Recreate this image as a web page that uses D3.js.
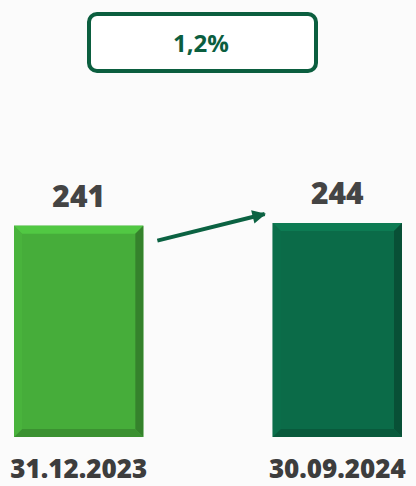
<!DOCTYPE html>
<html>
<head>
<meta charset="utf-8">
<script src="https://cdn.jsdelivr.net/npm/d3@7"></script>
<style>
  body { margin: 0; background: #fbfbfb; }
  svg { display: block; }
</style>
</head>
<body>
<div id="chart"></div>
<script>
// data
var dates = ["31.12.2023", "30.09.2024"];
var values = [241, 244];
var barColors = ["#46ad3a", "#0b6b48"];
var changeLabel = "1,2%";

var width = 416, height = 486;
var margin = {top: 223, right: 14, bottom: 49, left: 14};

var svg = d3.select("#chart").append("svg")
    .attr("width", width)
    .attr("height", height);

var x = d3.scaleBand()
    .domain(dates)
    .range([margin.left, width - margin.right])
    .paddingInner(0.5)
    .paddingOuter(0);

var y = d3.scaleLinear()
    .domain([0, d3.max(values)])
    .range([height - margin.bottom, margin.top]);

var bw = x.bandwidth();
var bev = 8;

var bars = svg.selectAll(".bar")
    .data(dates)
    .enter().append("g")
    .attr("class", "bar");

bars.each(function(d, i) {
    var g = d3.select(this);
    var x0 = x(d), x1 = x(d) + bw;
    var y0 = y(values[i]), y1 = y(0);
    var c = d3.color(barColors[i]);
    g.append("rect")
        .attr("x", x0).attr("y", y0)
        .attr("width", bw).attr("height", y1 - y0)
        .attr("fill", c);
    // bevel edges
    var faces = [
        {pts: [[x0, y0], [x1, y0], [x1 - bev, y0 + bev], [x0 + bev, y0 + bev]], col: c.brighter(0.4)},
        {pts: [[x1, y0], [x1, y1], [x1 - bev, y1 - bev], [x1 - bev, y0 + bev]], col: c.darker(0.8)},
        {pts: [[x0, y1], [x1, y1], [x1 - bev, y1 - bev], [x0 + bev, y1 - bev]], col: c.darker(0.5)},
        {pts: [[x0, y0], [x0, y1], [x0 + bev, y1 - bev], [x0 + bev, y0 + bev]], col: c.brighter(0.1)}
    ];
    faces.forEach(function(f) {
        g.append("polygon")
            .attr("points", f.pts.map(function(p) { return p.join(","); }).join(" "))
            .attr("fill", f.col);
    });
    g.append("text")
        .attr("x", x0 + bw / 2)
        .attr("y", y0 - 19)
        .attr("text-anchor", "middle")
        .attr("font-family", "Open Sans, sans-serif")
        .attr("font-weight", 800)
        .attr("font-size", 30)
        .attr("fill", "#444444")
        .text(values[i]);
    g.append("text")
        .attr("x", x0 + bw / 2)
        .attr("y", 478)
        .attr("text-anchor", "middle")
        .attr("font-family", "Open Sans, sans-serif")
        .attr("font-weight", 800)
        .attr("font-size", 26)
        .attr("fill", "#3d3d3d")
        .text(d);
});

// arrow between bars
svg.append("defs").append("marker")
    .attr("id", "arr")
    .attr("viewBox", "0 0 10 10")
    .attr("refX", 9).attr("refY", 5)
    .attr("markerWidth", 3.6).attr("markerHeight", 3.4)
    .attr("orient", "auto")
  .append("path")
    .attr("d", "M0,0L10,5L0,10Z")
    .attr("fill", "#0b6242");

var xa = x(dates[0]) + bw + 14, xb = x(dates[1]) - 8;
svg.append("line")
    .attr("x1", xa).attr("y1", y(values[0]) + 15)
    .attr("x2", xb).attr("y2", y(values[1]) - 9)
    .attr("stroke", "#0b6242")
    .attr("stroke-width", 4)
    .attr("marker-end", "url(#arr)");

// change box
svg.append("rect")
    .attr("x", 89).attr("y", 14)
    .attr("width", 227).attr("height", 57)
    .attr("rx", 8)
    .attr("fill", "#ffffff")
    .attr("stroke", "#0b5e3f")
    .attr("stroke-width", 4);

svg.append("text")
    .attr("x", 201).attr("y", 52)
    .attr("text-anchor", "middle")
    .attr("font-family", "Open Sans, sans-serif")
    .attr("font-weight", 700)
    .attr("font-size", 24)
    .attr("fill", "#0b5e3f")
    .text(changeLabel);
</script>
</body>
</html>
